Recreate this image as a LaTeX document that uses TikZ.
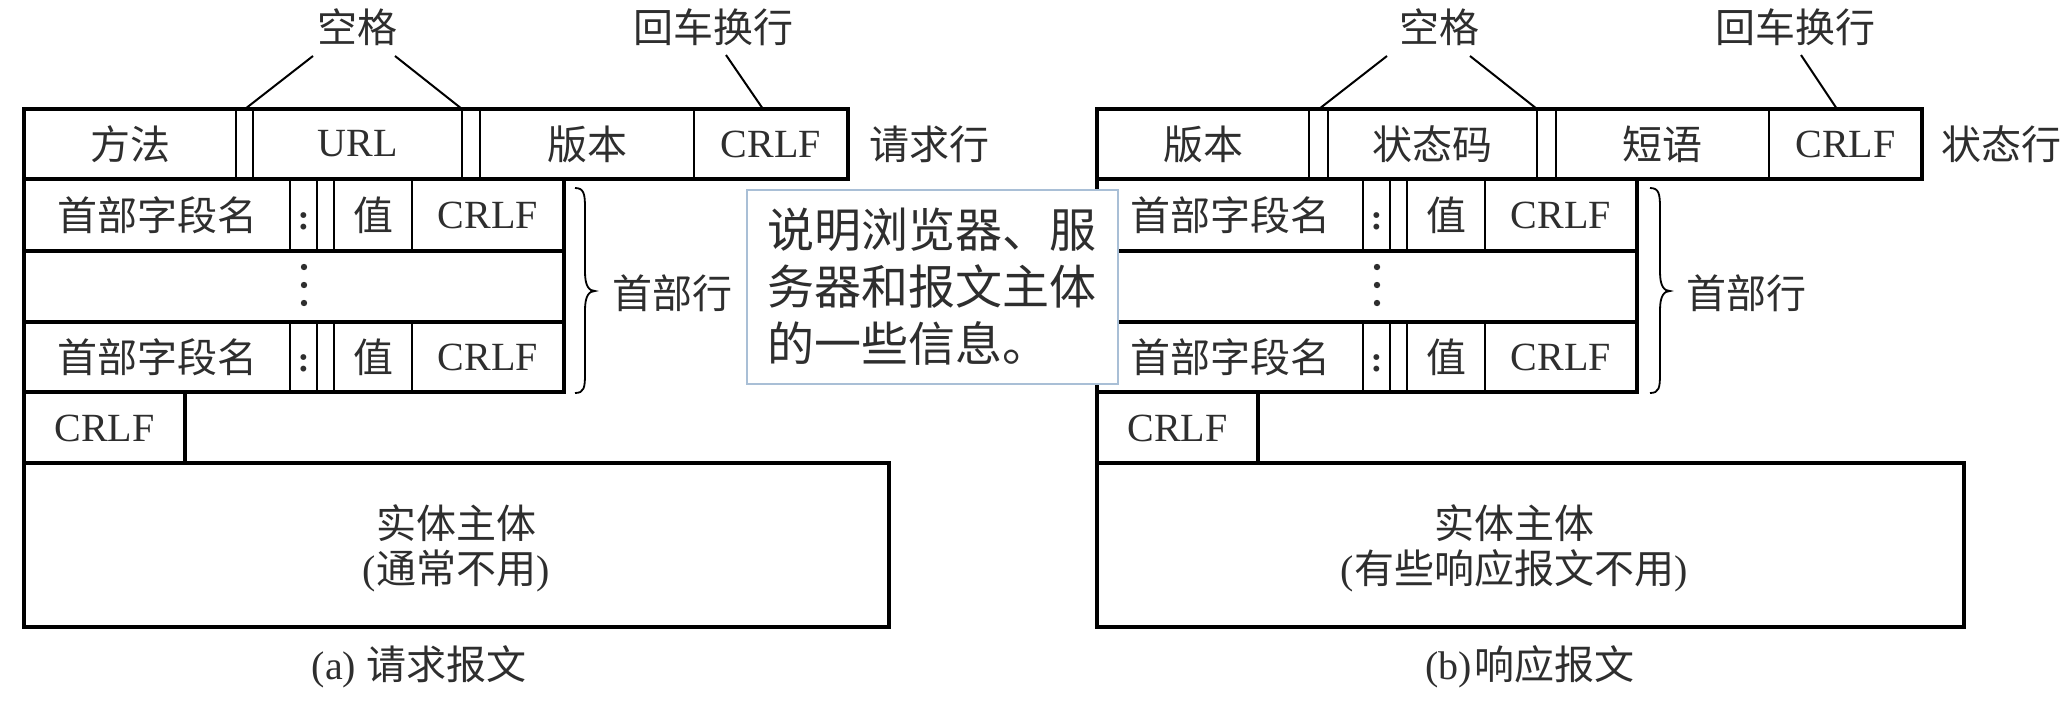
\documentclass[tikz,border=0pt]{standalone}
\usepackage{fontspec}
\setmainfont{Liberation Serif}
\newfontfamily\cjk{Noto Sans CJK SC}
\newcommand\zh[1]{{\cjk #1}}
\definecolor{txtc}{HTML}{2E2E2E}
\definecolor{notec}{HTML}{A9BFD6}
\begin{document}
\begin{tikzpicture}[x=1pt,y=-1pt,
  outer/.style={draw=black,line width=3.2pt},
  innerln/.style={draw=black,line width=1.8pt},
  lead/.style={draw=black,line width=2pt},
  lbl/.style={inner sep=0pt,text=txtc,font=\fontsize{40}{48}\selectfont},
  zhl/.style={lbl,font=\fontsize{40}{48}\selectfont\cjk},
  colon/.style={inner sep=0pt,text=txtc,font=\fontsize{36}{40}\selectfont\bfseries},
  dotmark/.style={fill=txtc,draw=none},
  bracep/.style={draw=black,line width=1.8pt},
  notebox/.style={draw=notec,fill=white,line width=1.5pt,align=left,inner xsep=21pt,inner ysep=0pt,
     minimum height=194pt,text width=329pt,text=txtc,font=\fontsize{47}{57}\selectfont\cjk}]
\useasboundingbox (0,0) rectangle (2070,704);

% ================= (a) request =================
% request line
\draw[outer] (24,109) rectangle (848,179);
\draw[innerln] (236,109)--(236,179) (253,109)--(253,179) (462,109)--(462,179) (480,109)--(480,179) (694,109)--(694,179);
\node[zhl] (a-m) at (130,144) {方法};
\node[lbl] (a-u) at (357.5,144) {URL};
\node[zhl] (a-v) at (587,144) {版本};
\node[lbl] (a-c) at (771,144) {CRLF};
\node[zhl] (a-rl) at (929,144) {请求行};
% space / crlf labels
\node[zhl] (a-kg) at (357,27) {空格};
\node[zhl] (a-hc) at (713,27) {回车换行};
\coordinate (a-kg1) at (313,56); \coordinate (a-kg2) at (395,56);
\coordinate (a-s1) at (245,109); \coordinate (a-s2) at (462,109);
\coordinate (a-hc1) at (726,55); \coordinate (a-hc2) at (763,109);
\draw[lead] (a-kg1)--(a-s1) (a-kg2)--(a-s2) (a-hc1)--(a-hc2);
% header lines
\draw[outer] (24,179) rectangle (564,251);
\draw[outer] (24,251) rectangle (564,322);
\draw[outer] (24,322) rectangle (564,392);
\draw[innerln] (290,179)--(290,251) (317,179)--(317,251) (334,179)--(334,251) (412,179)--(412,251);
\draw[innerln] (290,322)--(290,392) (317,322)--(317,392) (334,322)--(334,392) (412,322)--(412,392);
\node[zhl] (a-h1n) at (157,215) {首部字段名};
\node[colon] (a-h1c) at (303.5,221) {:};
\node[zhl] (a-h1v) at (373,215) {值};
\node[lbl] (a-h1r) at (488,215) {CRLF};
\fill[dotmark] (304,267) circle (3.2) (304,285) circle (3.2) (304,303) circle (3.2);
\node[zhl] (a-h3n) at (157,357) {首部字段名};
\node[colon] (a-h3c) at (303.5,363) {:};
\node[zhl] (a-h3v) at (373,357) {值};
\node[lbl] (a-h3r) at (488,357) {CRLF};
\draw[bracep] (575,188) .. controls (584,188) and (585,194) .. (585,208) -- (585,272)
  .. controls (585,286) and (589,291) .. (595,291) .. controls (589,291) and (585,296) .. (585,310)
  -- (585,374) .. controls (585,388) and (584,393) .. (575,393);
\node[zhl] (a-hd) at (672,293) {首部行};
% blank line and body
\draw[outer] (24,392) rectangle (185,463);
\node[lbl] (a-bl) at (104.5,428) {CRLF};
\draw[outer] (24,463) rectangle (889,627);
\node[zhl] (a-b1) at (456,523) {实体主体};
\node[lbl] (a-b2) at (456,571) {(\zh{通常不用})};
\node[lbl] (a-cap) at (419,667) {(a) \zh{请求报文}};

% ================= (b) response =================
\draw[outer] (1097,109) rectangle (1922,179);
\draw[innerln] (1309,109)--(1309,179) (1328,109)--(1328,179) (1537,109)--(1537,179) (1556,109)--(1556,179) (1769,109)--(1769,179);
\node[zhl] (b-v) at (1203,144) {版本};
\node[zhl] (b-s) at (1432.5,144) {状态码};
\node[zhl] (b-p) at (1662.5,144) {短语};
\node[lbl] (b-c) at (1845.5,144) {CRLF};
\node[zhl] (b-sl) at (2001,144) {状态行};
\node[zhl] (b-kg) at (1439,27) {空格};
\node[zhl] (b-hc) at (1795,27) {回车换行};
\coordinate (b-kg1) at (1387,56); \coordinate (b-kg2) at (1470,56);
\coordinate (b-s1) at (1319,109); \coordinate (b-s2) at (1537,109);
\coordinate (b-hc1) at (1801,55); \coordinate (b-hc2) at (1837,109);
\draw[lead] (b-kg1)--(b-s1) (b-kg2)--(b-s2) (b-hc1)--(b-hc2);
\begin{scope}[xshift=1073pt]
\draw[outer] (24,179) rectangle (564,251);
\draw[outer] (24,251) rectangle (564,322);
\draw[outer] (24,322) rectangle (564,392);
\draw[innerln] (290,179)--(290,251) (317,179)--(317,251) (334,179)--(334,251) (412,179)--(412,251);
\draw[innerln] (290,322)--(290,392) (317,322)--(317,392) (334,322)--(334,392) (412,322)--(412,392);
\node[zhl] (b-h1n) at (157,215) {首部字段名};
\node[colon] (b-h1c) at (303.5,221) {:};
\node[zhl] (b-h1v) at (373,215) {值};
\node[lbl] (b-h1r) at (488,215) {CRLF};
\fill[dotmark] (304,267) circle (3.2) (304,285) circle (3.2) (304,303) circle (3.2);
\node[zhl] (b-h3n) at (157,357) {首部字段名};
\node[colon] (b-h3c) at (303.5,363) {:};
\node[zhl] (b-h3v) at (373,357) {值};
\node[lbl] (b-h3r) at (488,357) {CRLF};
\draw[bracep] (577,188) .. controls (586,188) and (587,194) .. (587,208) -- (587,272)
  .. controls (587,286) and (591,291) .. (597,291) .. controls (591,291) and (587,296) .. (587,310)
  -- (587,374) .. controls (587,388) and (586,393) .. (577,393);
\node[zhl] (b-hd) at (673,293) {首部行};
\draw[outer] (24,392) rectangle (185,463);
\node[lbl] (b-bl) at (104.5,428) {CRLF};
\end{scope}
\draw[outer] (1097,463) rectangle (1964,627);
\node[zhl] (b-b1) at (1514,523) {实体主体};
\node[lbl] (b-b2) at (1514,571) {(\zh{有些响应报文不用})};
\node[lbl] (b-cap) at (1530,667) {(b)\hspace{3pt}\zh{响应报文}};

% ================= note =================
\node[notebox,anchor=north west] (note) at (746,189) {说明浏览器、服\\务器和报文主体\\的一些信息。};
\end{tikzpicture}
\end{document}
